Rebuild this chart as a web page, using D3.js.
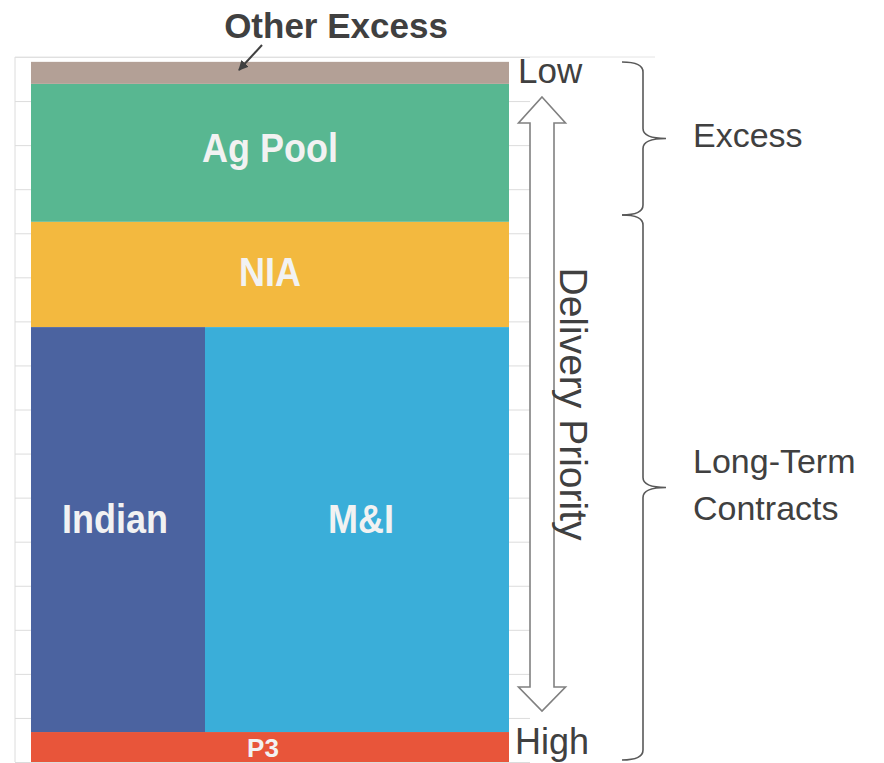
<!DOCTYPE html>
<html>
<head>
<meta charset="utf-8">
<script src="https://d3js.org/d3.v7.min.js"></script>
<style>
  body { margin: 0; background: #fff; }
  text { font-family: "Liberation Sans", Arial, sans-serif; }
</style>
</head>
<body>
<svg id="chart" width="884" height="763"></svg>
<script>
// stacked bands, bottom to top (gridline units)
const bands = ["P3", "Contracts", "NIA", "Ag Pool", "Other Excess"];
const bandHeights = [0.68, 9.19, 2.39, 3.13, 0.50];
const bandColors = ["#e8553a", null, "#f3b93f", "#58b791", "#b3a096"];

// the long-term contracts band is split side by side
const contracts = ["Indian", "M&I"];
const contractShares = [0.364, 0.636];
const contractColors = ["#4b63a0", "#3aaed9"];

const gridTicks = d3.range(0, 17);

const svg = d3.select("#chart");
const dark = "#404040";

const y = d3.scaleLinear().domain([0, 16]).range([762, 57]);
const x = d3.scaleLinear().domain([0, 1]).range([31, 509]);

// gridlines
const grid = svg.append("g")
  .attr("transform", "translate(15,0)")
  .call(d3.axisLeft(y).tickValues(gridTicks).tickSize(-515).tickFormat(""));
grid.select(".domain").remove();
grid.selectAll("line").attr("stroke", "#dcdcdc").attr("stroke-width", 1);
svg.append("line").attr("x1", 15).attr("x2", 15).attr("y1", y(16)).attr("y2", y(0))
  .attr("stroke", "#dcdcdc");
svg.append("line").attr("x1", 15).attr("x2", 655).attr("y1", y(16)).attr("y2", y(16))
  .attr("stroke", "#e4e4e4");

// cumulative stack
let acc = 0;
const stack = bands.map((name, i) => {
  const d = { name, y0: acc, y1: acc + bandHeights[i], color: bandColors[i] };
  acc += bandHeights[i];
  return d;
});

// simple bands
svg.append("g").selectAll("rect")
  .data(stack.filter(d => d.color))
  .enter().append("rect")
  .attr("x", x(0))
  .attr("width", x(1) - x(0))
  .attr("y", d => y(d.y1))
  .attr("height", d => y(d.y0) - y(d.y1))
  .attr("fill", d => d.color);

// contract split
const cband = stack[1];
let cacc = 0;
const cparts = contracts.map((name, i) => {
  const d = { name, x0: cacc, x1: cacc + contractShares[i], color: contractColors[i] };
  cacc += contractShares[i];
  return d;
});
svg.append("g").selectAll("rect")
  .data(cparts)
  .enter().append("rect")
  .attr("x", d => x(d.x0))
  .attr("width", d => x(d.x1) - x(d.x0))
  .attr("y", y(cband.y1))
  .attr("height", y(cband.y0) - y(cband.y1))
  .attr("fill", d => d.color);

// labels inside bars
function barLabel(txt, cx, cy, size, stretch) {
  svg.append("text")
    .attr("transform", `translate(${cx},${cy}) scale(1,${stretch})`)
    .attr("text-anchor", "middle")
    .attr("font-weight", "bold")
    .attr("font-size", size)
    .attr("fill", "#f2f2f2")
    .text(txt);
}
const mid = d => (y(d.y0) + y(d.y1)) / 2;
barLabel("Ag Pool", x(0.5), mid(stack[3]) + 9, 36, 1.15);
barLabel("NIA", x(0.5), mid(stack[2]) + 12, 36, 1.15);
cparts.forEach((p, i) => barLabel(p.name, x((p.x0 + p.x1) / 2) + (i ? 4 : -3), mid(cband) + 3, 36, 1.15));
barLabel("P3", x(0.5) - 7, mid(stack[0]) + 10, 26, 1);

// Other Excess callout
svg.append("defs").append("marker")
  .attr("id", "tip").attr("viewBox", "0 0 10 10")
  .attr("refX", 9).attr("refY", 5)
  .attr("markerWidth", 5).attr("markerHeight", 5)
  .attr("orient", "auto")
  .append("path").attr("d", "M0,0L10,5L0,10z").attr("fill", dark);
svg.append("text")
  .attr("x", 336).attr("y", 38)
  .attr("text-anchor", "middle")
  .attr("font-weight", "bold").attr("font-size", 35)
  .attr("fill", dark)
  .text("Other Excess");
svg.append("line")
  .attr("x1", 262).attr("y1", 45).attr("x2", 239).attr("y2", 70)
  .attr("stroke", dark).attr("stroke-width", 2)
  .attr("marker-end", "url(#tip)");

// delivery priority double arrow
const ax = 542, sw = 12, hw = 23.5;
const tipTop = 97, baseTop = 123, tipBot = 711, baseBot = 687;
const arrowPts = [
  [ax, tipTop], [ax + hw, baseTop], [ax + sw, baseTop], [ax + sw, baseBot], [ax + hw, baseBot],
  [ax, tipBot], [ax - hw, baseBot], [ax - sw, baseBot], [ax - sw, baseTop], [ax - hw, baseTop]
];
svg.append("path")
  .attr("d", d3.line()(arrowPts) + "Z")
  .attr("fill", "#fff")
  .attr("stroke", "#808080")
  .attr("stroke-width", 1.6);
svg.append("text")
  .attr("transform", "translate(560,404) rotate(90)")
  .attr("text-anchor", "middle")
  .attr("font-size", 39)
  .attr("fill", dark)
  .text("Delivery  Priority");

svg.append("text").attr("x", 518).attr("y", 83).attr("font-size", 35).attr("fill", dark).text("Low");
svg.append("text").attr("x", 515).attr("y", 754).attr("font-size", 36).attr("fill", dark).text("High");

// braces
function brace(y0, y1, xl, xv, xp) {
  const m = (y0 + y1) / 2, r = 10;
  const p = d3.path();
  p.moveTo(xl, y0);
  p.quadraticCurveTo(xv, y0, xv, y0 + r);
  p.lineTo(xv, m - r);
  p.quadraticCurveTo(xv, m, xp, m);
  p.quadraticCurveTo(xv, m, xv, m + r);
  p.lineTo(xv, y1 - r);
  p.quadraticCurveTo(xv, y1, xl, y1);
  return p.toString();
}
svg.append("path").attr("d", brace(62, 215, 622, 643, 666))
  .attr("fill", "none").attr("stroke", "#595959").attr("stroke-width", 1.6);
svg.append("path").attr("d", brace(215, 760, 622, 643, 666))
  .attr("fill", "none").attr("stroke", "#595959").attr("stroke-width", 1.6);

svg.append("text").attr("x", 693).attr("y", 147).attr("font-size", 34).attr("fill", dark).text("Excess");
svg.append("text").attr("x", 693).attr("y", 473).attr("font-size", 34).attr("fill", dark).text("Long-Term");
svg.append("text").attr("x", 693).attr("y", 520).attr("font-size", 34).attr("fill", dark).text("Contracts");
</script>
</body>
</html>
